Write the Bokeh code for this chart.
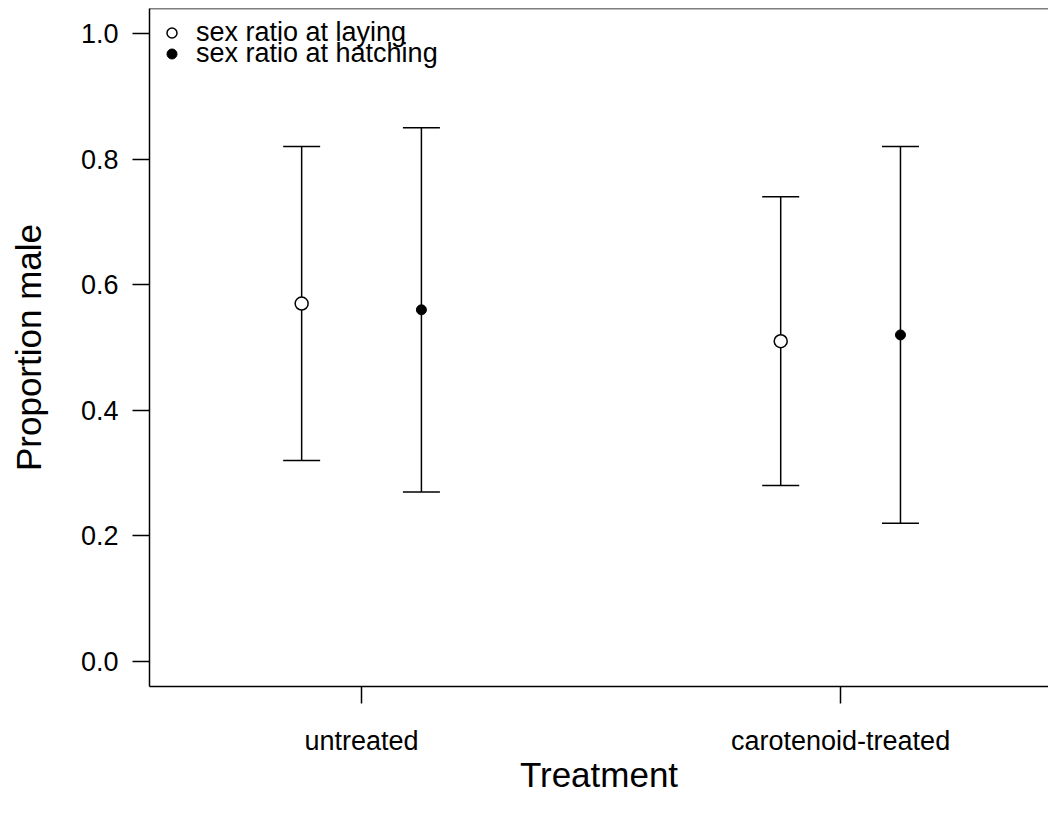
import numpy as np
from bokeh.plotting import figure
from bokeh.models import (ColumnDataSource, Whisker, TeeHead, Legend, LegendItem,
                          FixedTicker, Range1d, Span)
from bokeh.embed import file_html
from bokeh.resources import INLINE

# ---- data ----
treatments = ["untreated", "carotenoid-treated"]
laying_mean = [0.57, 0.51]
laying_lo = [0.32, 0.28]
laying_hi = [0.82, 0.74]
hatching_mean = [0.56, 0.52]
hatching_lo = [0.27, 0.22]
hatching_hi = [0.85, 0.82]
y_ticks = [0.0, 0.2, 0.4, 0.6, 0.8, 1.0]
legend_labels = ["sex ratio at laying", "sex ratio at hatching"]

FONT = "Liberation Sans"
pos = np.arange(1, len(treatments) + 1)
offset = 0.125

src_lay = ColumnDataSource(dict(x=pos - offset, y=laying_mean, lo=laying_lo, hi=laying_hi))
src_hat = ColumnDataSource(dict(x=pos + offset, y=hatching_mean, lo=hatching_lo, hi=hatching_hi))

p = figure(width=1048, height=824, output_backend="svg", toolbar_location=None,
           x_range=Range1d(0.5574, 2.434), y_range=Range1d(-0.04, 1.04),
           min_border_left=149, min_border_right=0, min_border_top=8, min_border_bottom=138)
p.outline_line_color = None
p.xgrid.visible = False
p.ygrid.visible = False
p.background_fill_color = "white"
p.border_fill_color = "white"

p.add_layout(Span(location=1.04, dimension="width", line_color="black", line_width=1.5))

for src in (src_lay, src_hat):
    w = Whisker(source=src, base="x", lower="lo", upper="hi", dimension="height",
                line_color="black", line_width=1.5,
                upper_head=TeeHead(size=37, line_color="black", line_width=1.5),
                lower_head=TeeHead(size=37, line_color="black", line_width=1.5))
    p.add_layout(w)

r_lay = p.scatter("x", "y", source=src_lay, marker="circle", size=13,
                  fill_color="white", line_color="black", line_width=1.5)
r_hat = p.scatter("x", "y", source=src_hat, marker="circle", size=10,
                  fill_color="black", line_color="black", line_width=1)

# two single-item legends so the rows can sit close together, as in the original
for label, rend, loc in zip(legend_labels, [r_lay, r_hat], [(10, 638), (10, 617)]):
    lg = Legend(items=[LegendItem(label=label, renderers=[rend])],
                location=loc, margin=0, padding=0, spacing=0,
                glyph_width=25, glyph_height=25, label_height=25, label_standoff=12,
                border_line_color=None, background_fill_alpha=0,
                label_text_font=FONT, label_text_font_size="27px",
                label_text_color="black")
    p.add_layout(lg)

# axes
p.xaxis.ticker = FixedTicker(ticks=list(pos))
p.xaxis.major_label_overrides = {int(k): v for k, v in zip(pos, treatments)}
p.yaxis.ticker = FixedTicker(ticks=y_ticks)
p.yaxis.major_label_overrides = {t: f"{t:.1f}" for t in y_ticks}

for ax in (p.xaxis[0], p.yaxis[0]):
    ax.axis_line_color = "black"
    ax.axis_line_width = 1.5
    ax.major_tick_line_color = "black"
    ax.major_tick_line_width = 1.5
    ax.major_tick_in = 0
    ax.major_tick_out = 17
    ax.minor_tick_line_color = None
    ax.major_label_text_font = FONT
    ax.major_label_text_font_size = "27px"
    ax.major_label_text_color = "black"
    ax.axis_label_text_font = FONT
    ax.axis_label_text_font_size = "35px"
    ax.axis_label_text_font_style = "normal"
    ax.axis_label_text_color = "black"

p.xaxis.axis_label = "Treatment"
p.yaxis.axis_label = "Proportion male"
p.xaxis.major_label_standoff = 22
p.xaxis.axis_label_standoff = -4
p.yaxis.major_label_standoff = 14
p.yaxis.axis_label_standoff = 30

open("out.html", "w").write(file_html(p, INLINE))
